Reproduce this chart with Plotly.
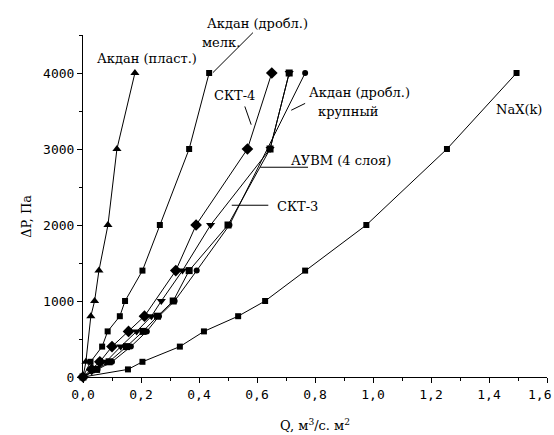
import plotly.graph_objects as go

# ---- data (Q, m3/(s*m2) ; dP, Pa) ----
plast_q = [0, 0.010, 0.027, 0.040, 0.055, 0.086, 0.117, 0.179]
plast_p = [0, 200, 800, 1000, 1400, 2000, 3000, 4000]

melk_q = [0, 0.026, 0.066, 0.085, 0.127, 0.145, 0.205, 0.265, 0.366, 0.435]
melk_p = [0, 200, 400, 600, 800, 1000, 1400, 2000, 3000, 4000]

skt4_q = [0, 0.030, 0.058, 0.100, 0.157, 0.212, 0.320, 0.390, 0.567, 0.651]
skt4_p = [0, 100, 200, 400, 600, 800, 1400, 2000, 3000, 4000]

skt3_q = [0, 0.040, 0.079, 0.130, 0.185, 0.236, 0.270, 0.343, 0.440, 0.645, 0.711]
skt3_p = [0, 100, 200, 400, 600, 800, 1000, 1400, 2000, 3000, 4000]

auvm_q = [0, 0.047, 0.090, 0.150, 0.207, 0.257, 0.311, 0.366, 0.500, 0.645, 0.711]
auvm_p = [0, 100, 200, 400, 600, 800, 1000, 1400, 2000, 3000, 4000]

krup_q = [0, 0.050, 0.100, 0.165, 0.220, 0.262, 0.316, 0.392, 0.505, 0.766]
krup_p = [0, 100, 200, 400, 600, 800, 1000, 1400, 2000, 4000]

nax_q = [0, 0.155, 0.205, 0.334, 0.417, 0.535, 0.628, 0.766, 0.977, 1.255, 1.495]
nax_p = [0, 100, 200, 400, 600, 800, 1000, 1400, 2000, 3000, 4000]

x_tickvals = [0, 0.2, 0.4, 0.6, 0.8, 1.0, 1.2, 1.4, 1.6]
x_ticktext = ["0,0", "0,2", "0,4", "0,6", "0,8", "1,0", "1,2", "1,4", "1,6"]
y_tickvals = [0, 1000, 2000, 3000, 4000]
y_ticktext = ["0", "1000", "2000", "3000", "4000"]

Y_MAX = 4500

# label texts with (x, y) in data units
labels = [
    ("Акдан (пласт.)", 0.22, 4185, "center"),
    ("Акдан (дробл.)", 0.60, 4655, "center"),
    ("мелк.", 0.404, 4400, "left"),
    ("СКТ-4", 0.524, 3707, "center"),
    ("Акдан (дробл.)", 0.954, 3747, "center"),
    ("крупный", 0.913, 3495, "center"),
    ("АУВМ (4 слоя)", 0.888, 2852, "center"),
    ("СКТ-3", 0.738, 2237, "center"),
    ("NaX(k)", 1.505, 3519, "center"),
]
# pointer lines (x0, y0, x1, y1) in data units
pointers = [
    (0.586, 4531, 0.448, 4005),
    (0.558, 3560, 0.580, 3320),
    (0.766, 3600, 0.718, 3510),
    (0.611, 2760, 0.776, 2760),
    (0.513, 2260, 0.639, 2260),
]

series = [
    (plast_q, plast_p, "triangle-up", 8),
    (melk_q, melk_p, "square", 6),
    (skt4_q, skt4_p, "diamond", 9),
    (skt3_q, skt3_p, "triangle-down", 8),
    (auvm_q, auvm_p, "square", 7),
    (krup_q, krup_p, "circle", 6),
    (nax_q, nax_p, "square", 6),
]

fig = go.Figure()
for q, p, sym, sz in series:
    fig.add_trace(go.Scatter(
        x=q, y=p, mode="lines+markers",
        line=dict(color="black", width=1),
        marker=dict(symbol=sym, size=sz, color="black"),
        cliponaxis=False, showlegend=False,
    ))

label_font = dict(family="DejaVu Serif", size=13, color="black")
for text, x, y, anchor in labels:
    fig.add_annotation(x=x, xref="x", y=y / Y_MAX, yref="paper", text=text,
                       showarrow=False, xanchor=anchor, yanchor="middle",
                       font=label_font)
for x0, y0, x1, y1 in pointers:
    fig.add_shape(type="line", x0=x0, y0=y0 / Y_MAX, x1=x1, y1=y1 / Y_MAX,
                  xref="x", yref="paper",
                  line=dict(color="black", width=1))

fig.add_annotation(xref="paper", yref="paper", x=-0.142, y=0.47,
                   text="ΔP, Па", textangle=-90, showarrow=False,
                   font=dict(family="DejaVu Serif", size=13, color="black"))
fig.add_annotation(xref="paper", yref="paper", x=0.5, y=-0.14,
                   yanchor="middle",
                   text="Q, м<sup>3</sup>/с. м<sup>2</sup>", showarrow=False,
                   font=dict(family="DejaVu Serif", size=13, color="black"))

tick_font = dict(family="DejaVu Sans Mono", size=13, color="black")

# last x tick label sits at the page edge: draw it right-aligned to stay visible
shown_ticktext = x_ticktext[:-1] + [""]
fig.add_annotation(xref="paper", yref="paper", x=1.0125, y=-0.05,
                   xanchor="right", yanchor="middle", showarrow=False,
                   text=x_ticktext[-1], font=tick_font)

fig.update_xaxes(range=[0, 1.6], showline=True, linecolor="black", linewidth=1,
                 showgrid=False, zeroline=False, ticks="outside", ticklen=5,
                 tickcolor="black", tickvals=x_tickvals, ticktext=shown_ticktext,
                 tickfont=tick_font, automargin=False, ticklabeloverflow="allow",
                 minor=dict(dtick=0.1, tick0=0, ticks="outside", ticklen=3,
                            tickcolor="black", showgrid=False))
fig.update_yaxes(range=[0, Y_MAX], showline=True, linecolor="black", linewidth=1,
                 showgrid=False, zeroline=False, ticks="outside", ticklen=5,
                 tickcolor="black", tickvals=y_tickvals, ticktext=y_ticktext,
                 tickfont=tick_font, automargin=False, ticklabeloverflow="allow",
                 minor=dict(dtick=500, tick0=0, ticks="outside", ticklen=3,
                            tickcolor="black", showgrid=False))

fig.update_layout(width=554, height=435,
                  margin=dict(l=83, r=7, t=35, b=58),
                  plot_bgcolor="white", paper_bgcolor="white")

fig.write_html("out.html",
               config={"displayModeBar": False},
               post_script="document.body.style.margin='0px';"
                           "document.body.style.padding='0px';"
                           "document.body.style.overflow='hidden';")
